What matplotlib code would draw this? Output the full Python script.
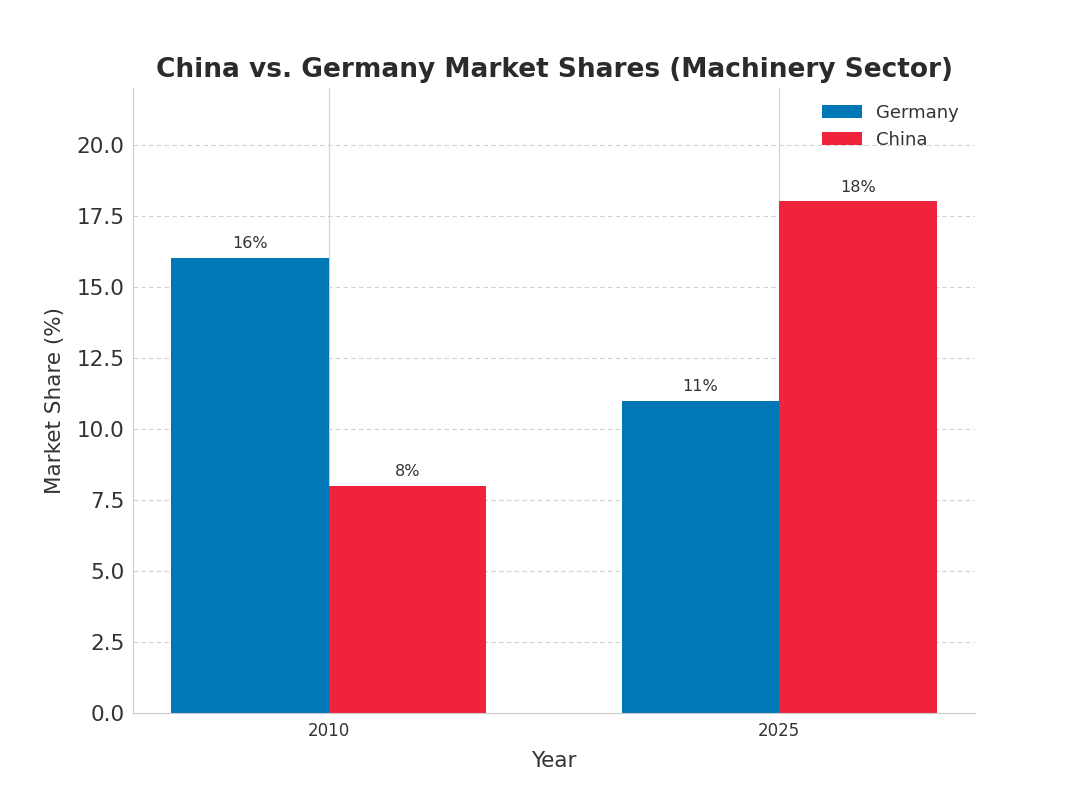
import matplotlib.pyplot as plt
import numpy as np

# Data
years = ['2010', '2025']
germany = [16, 11]
china = [8, 18]

plt.rcParams['font.family'] = ['DejaVu Sans']

fig, ax = plt.subplots(figsize=(10.8, 7.9), dpi=100)
fig.subplots_adjust(left=0.123, right=0.903, top=0.889, bottom=0.097)

x = np.arange(len(years))
width = 0.35

bars_de = ax.bar(x - width / 2, germany, width, color='#0077B6', label='Germany', zorder=2)
bars_cn = ax.bar(x + width / 2, china, width, color='#EF233C', label='China', zorder=2)

# Value labels above bars
for bars in (bars_de, bars_cn):
    for b in bars:
        ax.annotate(f'{b.get_height():.0f}%',
                    (b.get_x() + b.get_width() / 2, b.get_height()),
                    xytext=(0, 5), textcoords='offset points',
                    ha='center', va='bottom', fontsize=11.5, color='#333333')

ax.set_xticks(x)
ax.set_xticklabels(years, fontsize=12, color='#333333')
ax.tick_params(axis='y', labelsize=15.5, colors='#333333')
ax.tick_params(length=0, pad=6)
ax.set_ylim(0, 22)

# Grid: solid vertical, dashed horizontal
ax.grid(axis='x', color='#d0d0d0', linewidth=0.8, zorder=0)
ax.grid(axis='y', color='#d0d0d0', linestyle=(0, (4, 3)), linewidth=0.8, zorder=0)
ax.set_axisbelow(True)

for s in ('top', 'right'):
    ax.spines[s].set_visible(False)
for s in ('left', 'bottom'):
    ax.spines[s].set_color('#cccccc')

ax.set_title('China vs. Germany Market Shares (Machinery Sector)',
             fontsize=19, fontweight='bold', color='#2b2b2b', pad=8)
ax.set_xlabel('Year', fontsize=15.5, color='#333333', labelpad=8)
ax.set_ylabel('Market Share (%)', fontsize=15.5, color='#333333', labelpad=8)

ax.legend(loc='upper right', frameon=False, fontsize=13, labelcolor='#333333',
          handlelength=2.2)

fig.savefig('out.png')
